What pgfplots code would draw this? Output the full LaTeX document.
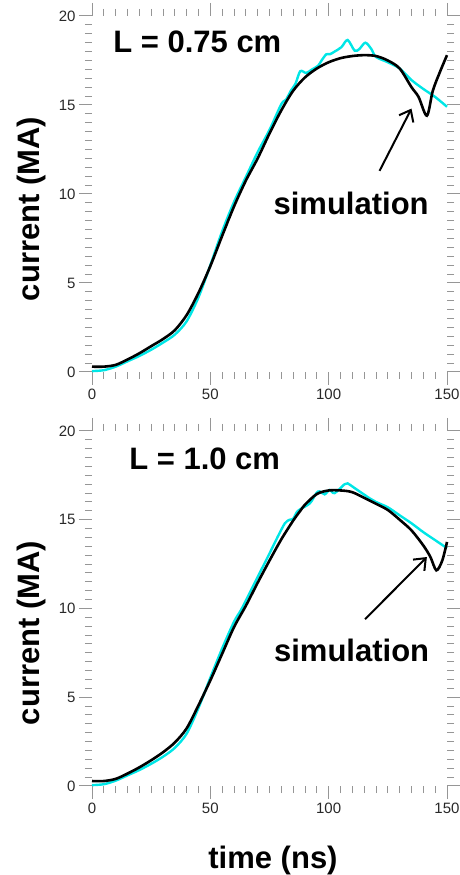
\documentclass[border=0pt]{standalone}
\usepackage{fontspec}
\setmainfont{Liberation Sans}
\usepackage{pgfplots}
\pgfplotsset{compat=1.18}
\usetikzlibrary{arrows.meta}
\definecolor{cyanline}{RGB}{0,230,230}
\definecolor{tickgray}{RGB}{150,150,150}
\definecolor{labgray}{RGB}{40,40,40}
\pgfplotsset{
  myaxis/.style={
    scale only axis, width=355pt, anchor=south west,
    xmin=0, xmax=150, ymin=0, ymax=20,
    xtick={0,50,100,150}, ytick={0,5,10,15,20},
    minor x tick num=9, minor y tick num=9,
    tick align=outside, major tick length=13pt, minor tick length=7pt,
    tick style={tickgray, line width=1pt},
    separate axis lines, axis line style={draw=none},
    ticklabel style={font=\fontsize{15}{15}\selectfont, text=labgray},
    /pgf/number format/assume math mode=true,
    clip=false,
  },
}
\tikzset{
  bk/.style={black, line width=2.6pt, smooth, tension=0.5},
  cy/.style={cyanline, line width=2.4pt, smooth, tension=0.5},
  arr/.style={line width=2pt, -{Straight Barb[length=10pt,width=16pt,line width=2pt]}},
}
\newcommand{\bigbf}{\bfseries\fontsize{31}{31}\selectfont}
\begin{document}
\begin{tikzpicture}
\path[use as bounding box] (0,0) rectangle (460pt,875pt);
% ---------- top panel ----------
\begin{axis}[myaxis, height=356pt, at={(92pt,503pt)}]
\addplot[cy] coordinates {
(0,0.05)(5,0.1)(10,0.3)(15,0.6)(20,0.9)(25,1.25)(30,1.65)(35,2.1)(40,2.85)(45,4.2)
(50,6.0)(55,7.9)(60,9.55)(65,10.95)(70,12.35)(75,13.6)(80,15.05)(82,15.3)(84,15.8)
(86,16.2)(88,16.9)(90.5,16.8)(93,17.0)(95.5,17.2)(97,17.5)(99,17.85)(100.5,17.85)
(102.5,18.0)(105.4,18.25)(108,18.65)(111,18.05)(113,18.15)(115.5,18.5)(118,18.15)
(120,17.7)(125,17.4)(130,17.05)(135,16.4)(140,15.9)(145,15.45)(150,14.9)};
\addplot[bk] coordinates {
(0,0.3)(5,0.3)(10,0.4)(15,0.7)(20,1.05)(25,1.45)(30,1.85)(35,2.35)(40,3.2)(45,4.45)
(50,5.95)(55,7.65)(60,9.3)(65,10.75)(70,12.0)(75,13.4)(80,14.7)(85,15.8)(90,16.55)
(95,17.05)(100,17.4)(105,17.63)(110,17.75)(115,17.8)(120,17.75)(125,17.5)(130,17.05)
(135,16.0)(138,15.45)(141.5,14.4)(144,15.8)(147,16.85)(150,17.8)};
\node[font=\bigbf] at (axis cs:44.5,18.55) {L = 0.75 cm};
\node[font=\bigbf] at (axis cs:109.5,9.45) {simulation};
\draw[arr] (axis cs:121.5,11.3) -- (axis cs:135,14.8);
\end{axis}
% ---------- bottom panel ----------
\begin{axis}[myaxis, height=355pt, at={(92pt,89pt)}]
\addplot[cy] coordinates {
(0,0.05)(5,0.1)(10,0.3)(15,0.6)(20,0.9)(25,1.25)(30,1.65)(35,2.15)(40,2.95)(45,4.4)
(50,6.1)(55,7.75)(60,9.25)(63,9.92)(65,10.45)(71.5,12.17)(75,13.1)(78.5,14.05)
(81.5,14.8)(83.5,15.0)(85,15.05)(87,15.5)(92,15.92)(94.8,16.5)(96.2,16.6)(98.3,16.43)
(100.4,16.68)(102.5,16.5)(106.7,17.0)(108,17.05)(110.8,16.8)(117.4,16.2)(120,16.0)
(125,15.7)(130,15.25)(135,14.8)(140,14.3)(145,13.85)(150,13.4)};
\addplot[bk] coordinates {
(0,0.28)(5,0.28)(10,0.4)(15,0.7)(20,1.05)(25,1.45)(30,1.9)(35,2.45)(40,3.25)(45,4.55)
(50,5.95)(55,7.45)(60,8.95)(65,10.15)(70,11.45)(75,12.7)(80,13.9)(85,14.95)(88,15.5)
(90,15.85)(95,16.45)(100,16.65)(105,16.65)(110,16.55)(117,16.1)(120,15.9)(125,15.55)
(130,15.0)(135,14.4)(140,13.55)(143,12.9)(145.5,12.15)(148,12.7)(150,13.75)};
\node[font=\bigbf] at (axis cs:47.6,18.45) {L = 1.0 cm};
\node[font=\bigbf] at (axis cs:109.7,7.65) {simulation};
\draw[arr] (axis cs:115.4,9.4) -- (axis cs:141.5,12.9);
\end{axis}
% ---------- axis titles ----------
\node[font=\bigbf, rotate=90] at (31pt,666pt) {current (MA)};
\node[font=\bigbf, rotate=90] at (31pt,242pt) {current (MA)};
\node[font=\bigbf] at (273pt,15pt) {time (ns)};
\end{tikzpicture}
\end{document}
